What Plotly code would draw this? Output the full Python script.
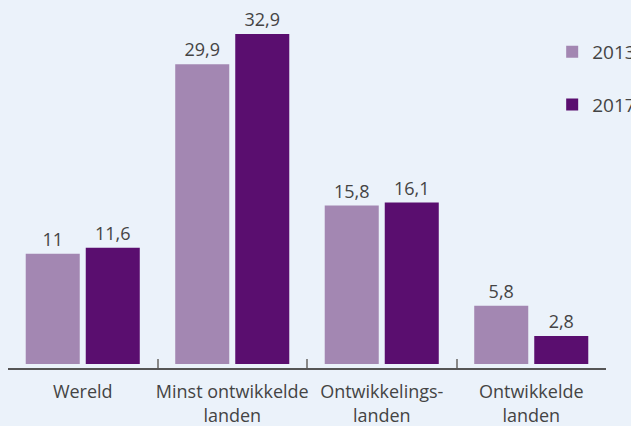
import plotly.graph_objects as go

categories = ["Wereld", "Minst ontwikkelde<br>landen", "Ontwikkelings-<br>landen", "Ontwikkelde<br>landen"]
years = ["2013", "2017"]
values_2013 = [11, 29.9, 15.8, 5.8]
values_2017 = [11.6, 32.9, 16.1, 2.8]
colors = ["#A387B2", "#5A0E6F"]

def fmt(v):
    s = f"{v:g}"
    return s.replace(".", ",")

xs = list(range(len(categories)))
fig = go.Figure()
for name, vals, col, grp in [(years[0], values_2013, colors[0], "a"), (years[1], values_2017, colors[1], "b")]:
    fig.add_trace(go.Bar(
        x=xs, y=vals, name=name, marker=dict(color=col, line=dict(width=0)),
        text=[fmt(v) for v in vals], textposition="outside",
        textfont=dict(size=18, color="#444444", family="Open Sans"),
        cliponaxis=False, legendgroup=grp, hoverinfo="skip",
    ))

bg = "#EBF2FA"
fig.update_layout(
    width=631, height=426,
    paper_bgcolor=bg, plot_bgcolor=bg,
    margin=dict(l=8, r=25, t=10, b=58, autoexpand=False),
    barmode="group", bargap=0.197, bargroupgap=0.1,
    font=dict(family="Open Sans", color="#444444", size=17),
    showlegend=True,
    legend=dict(x=0.91, y=0.936, xanchor="left", yanchor="top",
                bgcolor="rgba(0,0,0,0)", font=dict(size=19, color="#444444"),
                traceorder="grouped", tracegroupgap=25),
    xaxis=dict(range=[-0.5, len(categories) - 0.5], tickvals=xs, ticktext=categories,
               ticks="", showgrid=False, zeroline=False, showline=True,
               linecolor="#555555", linewidth=1.5,
               tickfont=dict(size=18, color="#444444"), ticklabelstandoff=7,
               minor=dict(tickvals=[x + 0.5 for x in xs[:-1]], ticks="inside",
                          ticklen=9, tickwidth=2, tickcolor="#888888", showgrid=False),
               fixedrange=True),
    yaxis=dict(range=[-0.4, 35.3], visible=False, showgrid=False, zeroline=False,
               fixedrange=True),
)

fig.write_html("out.html", config={"displayModeBar": False},
               post_script="document.body.style.margin='0';")
